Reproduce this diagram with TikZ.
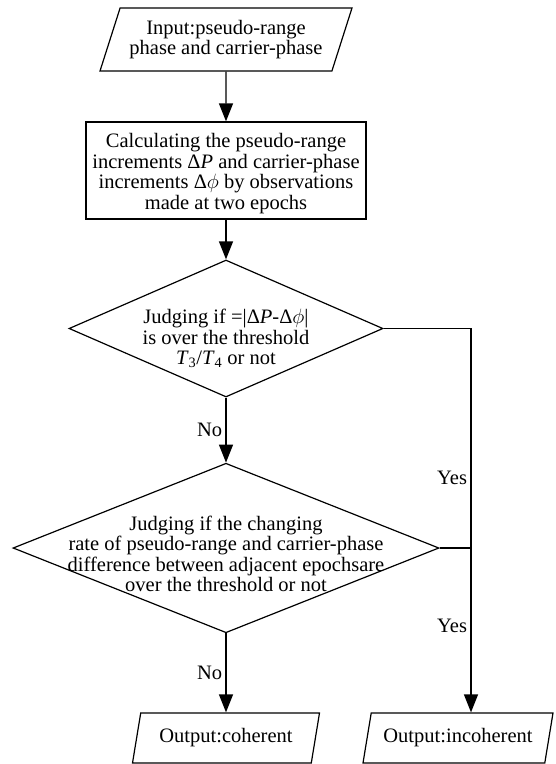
\documentclass[tikz,border=0pt]{standalone}
\usepackage{fontspec}
\setmainfont{Liberation Serif}
\usepackage{tikz}
\usetikzlibrary{shapes.geometric,arrows.meta}

\begin{document}
\begin{tikzpicture}[x=1pt,y=-1pt,line width=1.2pt,
  every node/.style={font=\fontsize{20.5}{20.5}\selectfont},
  io/.style={draw,trapezium,trapezium left angle=70,trapezium right angle=110,trapezium stretches body,align=center,inner sep=2pt},
  proc/.style={draw,rectangle,align=center,inner sep=2pt},
  dec/.style={draw,diamond,align=center,inner sep=-16pt},
  arr/.style={-{Triangle[width=14pt,length=18pt]}}]
\useasboundingbox (0,0) rectangle (555,764);
\node[io,trapezium left angle=65,trapezium right angle=115,minimum width=252pt,minimum height=63pt] (inp) at (226,39.5) {Input:pseudo-range\\phase and carrier-phase};
\node[proc,minimum width=280pt,minimum height=97pt] (calc) at (226,170.5) {\rule{0pt}{20pt}Calculating the pseudo-range\\increments Δ\textit{P} and carrier-phase\\increments Δ$\phi$ by observations\\made at two epochs};
\node[dec,aspect=2.3,minimum width=314pt,minimum height=137pt] (j1) at (226,328.5) {\rule{0pt}{35pt}Judging if =|Δ\textit{P}-Δ$\phi$|\\is over the threshold\\\textit{T}\textsubscript{3}/\textit{T}\textsubscript{4} or not};
\node[dec,aspect=2.5,minimum width=426pt,minimum height=168pt] (j2) at (226,548) {\rule{0pt}{26pt}Judging if the changing\\rate of pseudo-range and carrier-phase\\difference between adjacent epochsare\\over the threshold or not};
\node[io,minimum width=187pt,minimum height=50pt] (coh) at (226,738) {Output:coherent};
\node[io,minimum width=190pt,minimum height=50pt] (inc) at (458,738) {Output:incoherent};
\coordinate (yes) at (471,328.5);
\draw[arr] (inp) -- (calc);
\draw[arr] (calc) -- (j1);
\draw[arr] (j1) -- node[left]{No} (j2);
\draw[arr] (j2) -- node[left]{No} (coh);
\draw[arr] (j1.east) -- (yes) -- node[pos=0.39,left]{Yes} node[pos=0.775,left]{Yes} (yes |- inc.north);
\draw (j2.east) -- (j2.east -| yes);
\end{tikzpicture}
\end{document}
